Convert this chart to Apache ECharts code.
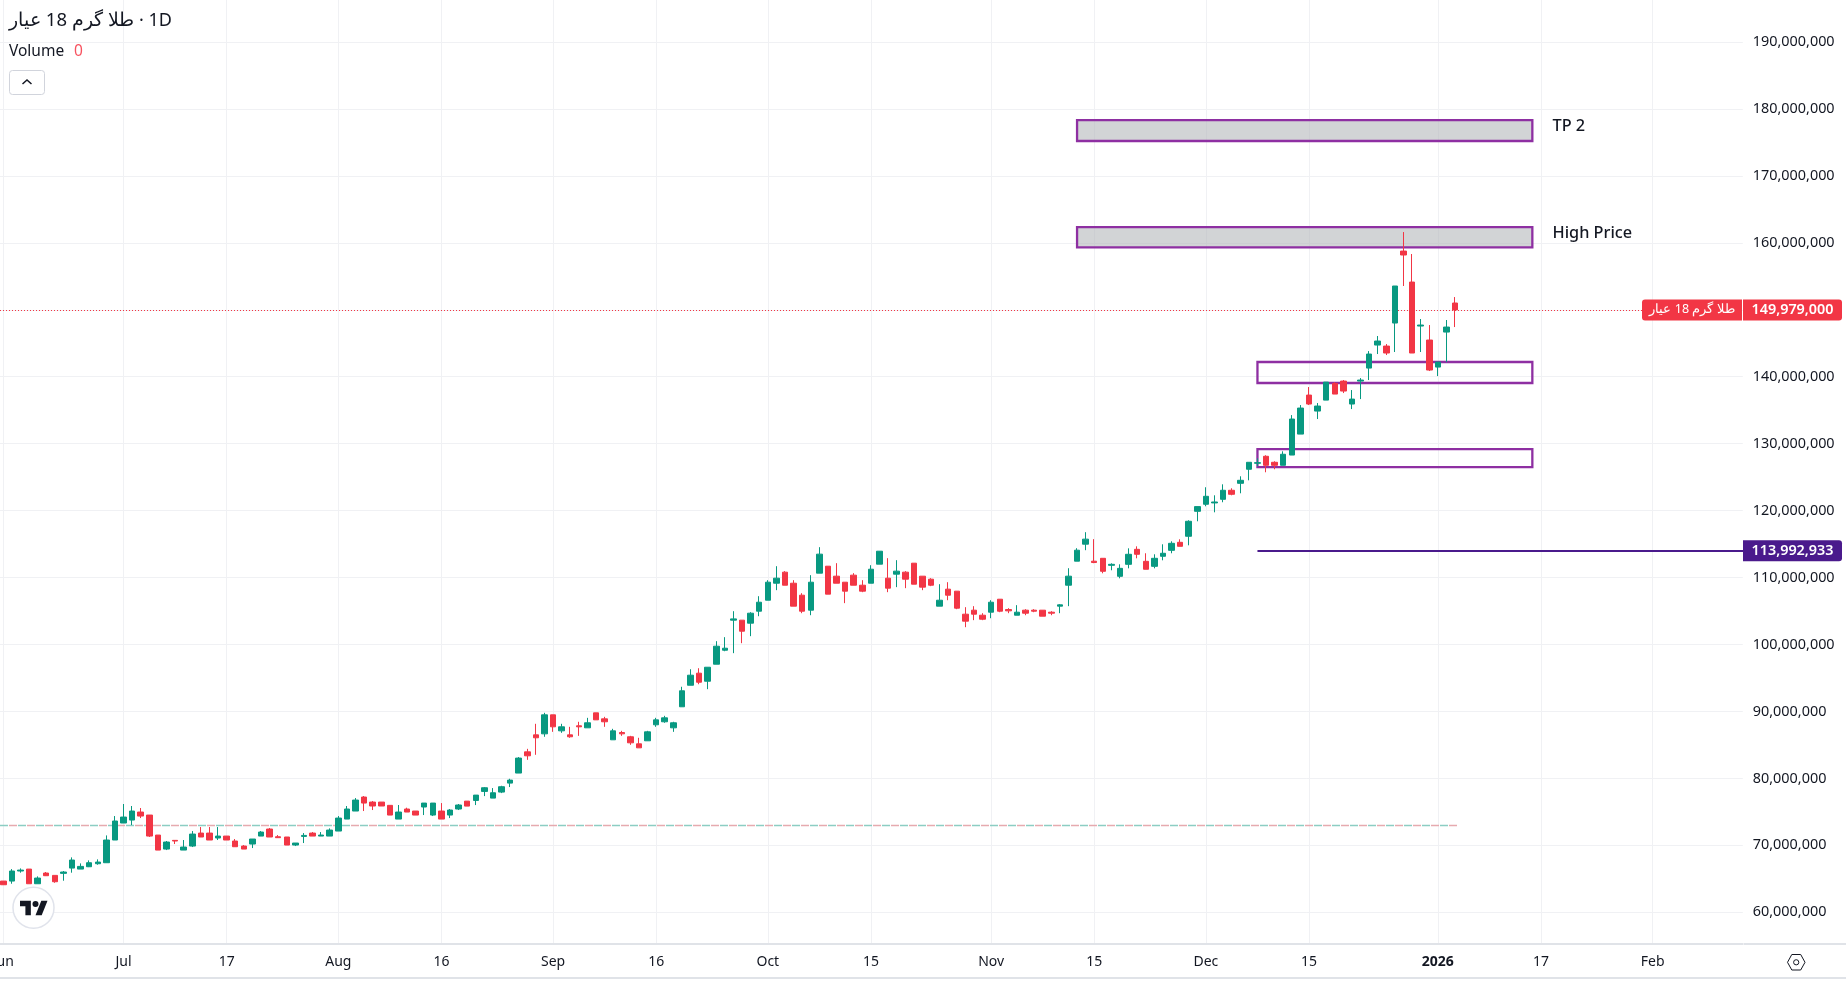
<!DOCTYPE html>
<html lang="en">

<head>
    <meta charset="UTF-8">
    <style>
        html, body { margin: 0; padding: 0; background: #fff; }
        #main { width: 1846px; height: 988px; }
    </style>
    <title>طلا گرم 18 عیار</title>
    <script src="https://cdn.jsdelivr.net/npm/echarts@6/dist/echarts.min.js"></script>
</head>

<body>
    <div id="main"></div>

    <script>
        // daily candles in millions: [open, close, low, high]
        var candles = [
            [64.67, 64.12, 64.12, 64.67], [64.67, 66.17, 64.27, 66.46], [66.17, 66.31, 65.92, 66.56], [66.46, 64.27, 64.27, 66.46],
            [64.27, 65.12, 64.27, 65.37], [65.87, 65.47, 65.42, 66.02], [65.52, 64.57, 64.42, 65.52], [65.82, 66.02, 64.72, 66.17],
            [66.61, 67.81, 65.92, 68.21], [66.46, 66.86, 66.46, 67.31], [66.81, 67.41, 66.76, 67.76], [67.26, 67.51, 67.11, 67.91],
            [67.41, 70.80, 67.41, 71.49], [70.80, 73.64, 70.80, 74.38], [73.34, 74.23, 73.34, 76.18], [73.78, 75.13, 73.04, 75.88],
            [74.98, 74.38, 74.08, 75.58], [74.53, 71.39, 71.25, 74.53], [71.54, 69.30, 69.30, 71.54], [69.45, 70.50, 69.30, 70.65],
            [70.75, 70.65, 70.20, 70.75], [69.30, 69.75, 69.30, 70.80], [69.90, 71.69, 69.75, 72.14], [71.84, 71.25, 71.25, 72.74],
            [71.84, 70.80, 70.80, 72.74], [71.10, 71.39, 70.80, 72.74], [71.39, 70.80, 70.80, 71.39], [70.65, 69.80, 69.80, 70.95],
            [69.90, 69.45, 69.45, 70.05], [70.20, 70.95, 69.60, 70.95], [71.39, 71.99, 71.39, 72.14], [72.44, 71.25, 71.25, 72.59],
            [71.29, 71.15, 71.15, 71.54], [71.25, 70.05, 70.05, 71.25], [70.05, 70.35, 69.90, 70.35], [71.34, 71.49, 70.35, 71.84],
            [71.84, 71.39, 71.39, 71.99], [71.39, 71.54, 71.39, 71.99], [71.39, 72.29, 71.39, 72.54], [72.14, 74.08, 72.14, 74.38],
            [73.93, 75.43, 73.93, 75.88], [75.13, 76.77, 75.13, 77.07], [77.22, 76.32, 75.13, 77.37], [76.47, 75.88, 75.28, 76.62],
            [76.47, 75.88, 75.88, 76.47], [75.98, 74.53, 74.53, 75.98], [73.93, 74.98, 73.93, 76.03], [75.43, 74.98, 74.98, 75.63],
            [75.13, 74.53, 74.53, 75.13], [75.73, 76.32, 74.53, 76.32], [74.53, 76.32, 74.38, 76.32], [75.13, 73.93, 73.93, 76.32],
            [74.53, 75.28, 74.08, 75.43], [75.43, 76.03, 75.28, 76.18],
            // Aug 20 onwards
            [76.61, 75.87, 75.87, 76.61], [76.71, 77.51, 76.02, 77.51], [78.06, 78.61, 77.36, 78.71], [77.06, 77.86, 77.06, 78.56],
            [77.96, 78.76, 77.81, 78.90], [79.30, 79.75, 78.71, 79.95], [80.80, 83.04, 80.80, 83.19], [83.97, 83.38, 82.78, 84.42],
            [86.51, 86.07, 83.53, 88.16], [86.66, 89.50, 86.22, 89.80], [89.50, 87.71, 86.96, 89.50], [87.11, 87.71, 86.81, 88.16],
            [86.51, 86.22, 86.07, 87.71], [87.86, 87.71, 86.36, 88.46], [87.56, 88.31, 87.56, 89.05], [89.80, 88.75, 88.75, 89.80],
            [88.90, 88.46, 87.71, 89.20], [85.77, 87.11, 85.77, 87.41], [86.86, 86.66, 86.36, 87.11], [86.22, 85.32, 85.02, 86.36],
            [85.17, 84.57, 84.57, 86.07], [85.62, 86.96, 85.62, 87.11], [88.01, 88.75, 87.71, 89.05], [88.46, 89.05, 88.31, 89.35],
            [87.56, 88.31, 86.96, 88.46], [90.70, 93.09, 90.70, 93.69], [93.92, 95.42, 93.92, 96.31], [95.72, 94.37, 94.07, 96.46],
            [94.52, 96.61, 93.33, 96.61], [97.06, 99.75, 97.06, 100.50], [99.15, 99.45, 99.00, 101.10], [103.64, 103.83, 98.71, 104.98],
            [103.64, 101.99, 100.20, 103.64], [103.19, 104.68, 101.25, 104.83], [104.98, 106.32, 104.23, 107.22], [106.62, 109.31, 106.62, 109.61],
            [109.16, 109.91, 108.12, 111.70], [110.81, 108.86, 108.86, 110.96], [109.16, 105.73, 105.73, 109.61], [107.37, 104.98, 104.68, 107.67],
            [105.13, 109.31, 104.38, 110.36], [110.66, 113.50, 110.66, 114.54], [111.70, 107.52, 107.52, 111.70], [110.21, 109.16, 109.16, 112.15],
            [109.31, 107.97, 106.18, 109.31], [110.36, 108.86, 108.86, 110.66], [108.86, 107.97, 107.82, 109.61], [109.16, 111.25, 109.16, 111.85],
            [112.00, 113.94, 112.00, 113.94], [109.91, 108.42, 107.82, 112.90], [110.51, 110.96, 108.57, 112.60], [110.81, 109.76, 108.42, 110.96],
            [112.15, 109.01, 109.01, 112.15], [110.21, 108.57, 108.12, 110.21], [109.76, 108.86, 108.72, 109.91], [105.73, 106.62, 105.73, 109.01],
            [108.27, 107.37, 106.62, 109.31], [107.97, 105.43, 105.28, 107.97], [104.53, 103.49, 102.59, 105.58], [105.13, 104.53, 103.64, 105.73],
            [104.38, 103.78, 103.64, 104.68], [104.83, 106.32, 103.93, 106.62], [106.77, 104.98, 104.83, 106.77], [105.23, 105.03, 104.68, 105.43],
            [104.38, 104.83, 104.38, 105.88], [105.13, 104.68, 104.38, 105.28], [105.13, 104.98, 104.83, 105.28], [105.13, 104.23, 104.23, 105.13],
            [104.83, 104.68, 104.38, 104.98], [105.73, 105.93, 104.68, 106.03], [108.86, 110.21, 105.73, 111.40], [112.45, 114.09, 112.45, 114.39],
            [114.99, 115.74, 114.09, 116.78], [112.45, 112.25, 112.15, 115.74],
            // Nov 15 onwards
            [112.88, 110.94, 110.64, 112.88], [111.83, 111.98, 111.09, 112.13], [110.19, 111.38, 109.89, 111.98], [111.98, 113.48, 111.38, 114.37],
            [114.22, 113.48, 112.88, 114.67], [112.43, 111.24, 111.24, 113.63], [111.68, 112.88, 111.38, 113.48], [113.18, 113.63, 112.58, 114.97],
            [114.07, 115.12, 113.63, 115.42], [115.27, 114.67, 114.67, 115.72], [116.17, 118.41, 114.82, 118.56], [119.90, 120.60, 118.41, 120.60],
            [120.95, 122.14, 120.65, 123.49], [121.15, 121.29, 119.75, 122.29], [121.69, 123.04, 121.25, 123.93], [123.04, 122.44, 122.29, 123.34],
            [124.08, 124.53, 122.59, 125.13], [126.18, 127.22, 124.53, 127.22], [127.07, 127.17, 126.62, 127.82], [128.12, 126.77, 125.73, 128.27],
            [127.22, 126.77, 126.18, 127.37], [126.77, 128.42, 126.77, 128.86], [128.30, 133.68, 128.30, 134.27], [131.43, 135.32, 131.43, 135.77],
            [137.26, 135.92, 135.77, 138.46], [134.87, 135.62, 133.68, 136.07], [136.51, 139.20, 136.51, 139.20], [139.00, 137.41, 137.41, 139.20],
            [139.35, 137.86, 137.56, 139.50], [135.92, 136.66, 135.17, 138.01], [139.35, 139.50, 136.66, 139.80], [141.29, 143.39, 139.50, 143.83],
            [144.73, 145.33, 143.39, 146.08], [144.58, 143.54, 143.24, 144.88], [148.02, 153.55, 143.69, 153.55], [158.77, 158.18, 153.55, 161.61],
            [154.14, 143.54, 143.54, 158.33], [147.57, 147.72, 143.69, 148.62], [145.48, 141.00, 140.85, 147.72], [141.44, 142.19, 140.10, 142.19],
            [146.67, 147.42, 142.19, 148.47], [151.01, 149.979, 147.42, 151.90]
        ];

        var tickIndexes = [0, 14, 26, 39, 51, 64, 76, 89, 101, 115, 127, 140, 152, 167, 179, 192];
        var tickNames = ['Jun', 'Jul', '17', 'Aug', '16', 'Sep', '16', 'Oct', '15', 'Nov', '15', 'Dec', '15', '2026', '17', 'Feb'];
        var priceTicks = [60, 70, 80, 90, 100, 110, 120, 130, 140, 150, 160, 170, 180, 190];

        // [name, first slot, last slot, top, bottom, filled]
        var zones = [
            ['TP 2', 125, 178, 178.34, 175.21, true],
            ['High Price', 125, 178, 162.36, 159.33, true],
            ['', 146, 178, 142.20, 139.06, false],
            ['', 146, 178, 129.19, 126.50, false]
        ];

        var symbolName = 'طلا گرم 18 عيار';
        var lastPrice = 149979000;
        var levelPrice = 113992933;
        var levelStart = 146;
        var dashedPrice = 72990000;

        var slots = 203;
        var categories = [];
        for (var i = 0; i < slots; i++) {
            var at = tickIndexes.indexOf(i);
            categories.push(at >= 0 ? tickNames[at] : '');
        }

        var font = '"Noto Sans", sans-serif';
        var textColor = '#131722';
        var gridColor = '#f0f1f4';
        var red = '#f23645';
        var green = '#089981';
        var isTick = function (index) { return tickIndexes.indexOf(index) >= 0; };
        var fmt = function (v) { return Math.round(v).toLocaleString('en-US'); };

        var myChart = echarts.init(document.getElementById('main'));

        var option = {
            animation: false,
            backgroundColor: '#fff',
            grid: { left: -1, top: 0, width: 1743.8, height: 944, outerBoundsMode: 'none' },
            xAxis: {
                type: 'category',
                data: categories,
                axisLine: { show: true, lineStyle: { color: '#e0e3e8', width: 2 } },
                axisTick: { show: false },
                splitLine: { show: true, interval: function (index) { return isTick(index); }, alignWithLabel: true, lineStyle: { color: gridColor, width: 1 } },
                axisLabel: {
                    interval: function (index) { return isTick(index); },
                    color: textColor,
                    fontFamily: font,
                    fontSize: 14,
                    margin: 11,
                    hideOverlap: false,
                    formatter: function (name) { return name === '2026' ? '{b|2026}' : name; },
                    rich: { b: { fontWeight: 'bold', fontSize: 14, fontFamily: font, color: textColor } }
                }
            },
            yAxis: {
                type: 'value',
                position: 'right',
                min: 55270000,
                max: 196270000,
                axisLine: { show: false },
                axisTick: { show: false, customValues: priceTicks.map(function (v) { return v * 1e6; }) },
                splitLine: { show: true, lineStyle: { color: gridColor, width: 1 } },
                axisLabel: {
                    customValues: priceTicks.map(function (v) { return v * 1e6; }),
                    color: textColor,
                    fontFamily: font,
                    fontSize: 14.4,
                    margin: 10,
                    padding: [0, 0, 3, 0],
                    formatter: fmt
                }
            },
            series: [{
                type: 'candlestick',
                barWidth: 6,
                data: candles.map(function (c) { return c.map(function (v) { return v * 1e6; }); }),
                itemStyle: { color: green, color0: red, borderColor: green, borderColor0: red, borderWidth: 1 },
                markArea: {
                    silent: true,
                    z: 1,
                    data: zones.map(function (z) {
                        return [{
                            name: z[0],
                            coord: [z[1], z[3] * 1e6],
                            itemStyle: {
                                color: z[5] ? 'rgba(180,183,186,0.6)' : 'rgba(0,0,0,0)',
                                borderColor: '#8e2fa2',
                                borderWidth: 2.3
                            },
                            label: {
                                show: z[0] !== '',
                                position: 'right',
                                distance: 19,
                                offset: [0, -4],
                                color: textColor,
                                fontFamily: font,
                                fontSize: 16.3,
                                fontWeight: 500
                            }
                        }, { coord: [z[2], z[4] * 1e6] }];
                    })
                },
                markLine: {
                    silent: true,
                    z: 1,
                    symbol: 'none',
                    label: { show: false },
                    data: [
                        [{ coord: [0, lastPrice], x: 0, lineStyle: { color: red, type: [1, 2], width: 1 } }, { coord: [202, lastPrice], x: 1743 }],
                        [{ coord: [levelStart, levelPrice], lineStyle: { color: '#4a1a8c', type: 'solid', width: 2 } }, { coord: [202, levelPrice], x: 1743 }],
                        [{ coord: [0, dashedPrice], x: 0, lineStyle: { color: '#8ccdc3', type: [8, 10], width: 1.4 } }, { coord: [169, dashedPrice], x: 1458 }],
                        [{ coord: [0, dashedPrice], x: 9, lineStyle: { color: '#e6aaaf', type: [8, 10], width: 1.4 } }, { coord: [169, dashedPrice], x: 1458 }]
                    ]
                }
            }]
        };

        myChart.setOption(option);

        // page furniture around the plot, price tags follow the axis scale
        var yLast = myChart.convertToPixel({ yAxisIndex: 0 }, lastPrice);
        var yLevel = myChart.convertToPixel({ yAxisIndex: 0 }, levelPrice);

        myChart.setOption({
            graphic: [
                // separate pieces, otherwise the bidi pass pulls the 1 of 1D into the arabic run
                { type: 'text', style: { x: 9, y: 21, verticalAlign: 'middle', text: symbolName, font: '18.5px ' + font, fill: textColor } },
                { type: 'text', style: { x: 172, y: 21, align: 'right', verticalAlign: 'middle', text: '· 1D', font: '18px ' + font, fill: textColor } },
                { type: 'text', style: { x: 9, y: 52, verticalAlign: 'middle', text: 'Volume', font: '15.5px ' + font, fill: textColor } },
                { type: 'text', style: { x: 74, y: 52, verticalAlign: 'middle', text: '0', font: '15.5px ' + font, fill: '#f7525f' } },
                { type: 'rect', shape: { x: 9.5, y: 70.5, width: 35, height: 24, r: 3 }, style: { fill: '#fff', stroke: '#d1d4dc', lineWidth: 1 } },
                { type: 'polyline', shape: { points: [[22.5, 84], [27, 80], [31.5, 84]] }, style: { fill: null, stroke: textColor, lineWidth: 1.5 } },

                { type: 'circle', shape: { cx: 33.5, cy: 907.7, r: 20.5 }, style: { fill: '#fff', stroke: '#e0e3eb', lineWidth: 1.5 } },
                { type: 'polygon', shape: { points: [[20, 900.7], [30.85, 900.7], [30.85, 915.2], [25.4, 915.2], [25.4, 906.3], [20, 906.3]] }, style: { fill: textColor } },
                { type: 'polygon', shape: { points: [[35.5, 915.2], [41.3, 900.7], [47.5, 900.7], [41.7, 915.2]] }, style: { fill: textColor } },
                { type: 'circle', shape: { cx: 35.5, cy: 903.9, r: 3 }, style: { fill: textColor } },

                { type: 'line', shape: { x1: 1744, y1: 944, x2: 1846, y2: 944 }, style: { stroke: '#e0e3e8', lineWidth: 2 } },
                { type: 'line', shape: { x1: 0, y1: 978, x2: 1846, y2: 978 }, style: { stroke: '#e0e3e8', lineWidth: 2 } },
                { type: 'polygon', shape: { points: [[1787.5, 962.3], [1791.8, 954.5], [1800.7, 954.5], [1805, 962.3], [1800.7, 970], [1791.8, 970]] }, style: { fill: 'none', stroke: textColor, lineWidth: 1 } },
                { type: 'circle', shape: { cx: 1796.2, cy: 962.3, r: 2.6 }, style: { fill: 'none', stroke: textColor, lineWidth: 1 } },

                { type: 'rect', z: 10, shape: { x: 1642, y: yLast - 10.5, width: 100, height: 21, r: [3, 0, 0, 3] }, style: { fill: red } },
                { type: 'rect', z: 10, shape: { x: 1743, y: yLast - 10.5, width: 99, height: 21, r: [0, 3, 3, 0] }, style: { fill: red } },
                { type: 'text', z: 11, style: { x: 1692, y: yLast, text: symbolName, align: 'center', verticalAlign: 'middle', font: '12.5px ' + font, fill: '#fff' } },
                { type: 'text', z: 11, style: { x: 1792.5, y: yLast, text: fmt(lastPrice), align: 'center', verticalAlign: 'middle', font: '600 14.4px ' + font, fill: '#fff' } },
                { type: 'rect', z: 10, shape: { x: 1743, y: yLevel - 10.5, width: 99, height: 21, r: [0, 3, 3, 0] }, style: { fill: '#4a1a8c' } },
                { type: 'text', z: 11, style: { x: 1792.5, y: yLevel, text: fmt(levelPrice), align: 'center', verticalAlign: 'middle', font: '600 14.4px ' + font, fill: '#fff' } }
            ]
        });
    </script>
</body>

</html>
